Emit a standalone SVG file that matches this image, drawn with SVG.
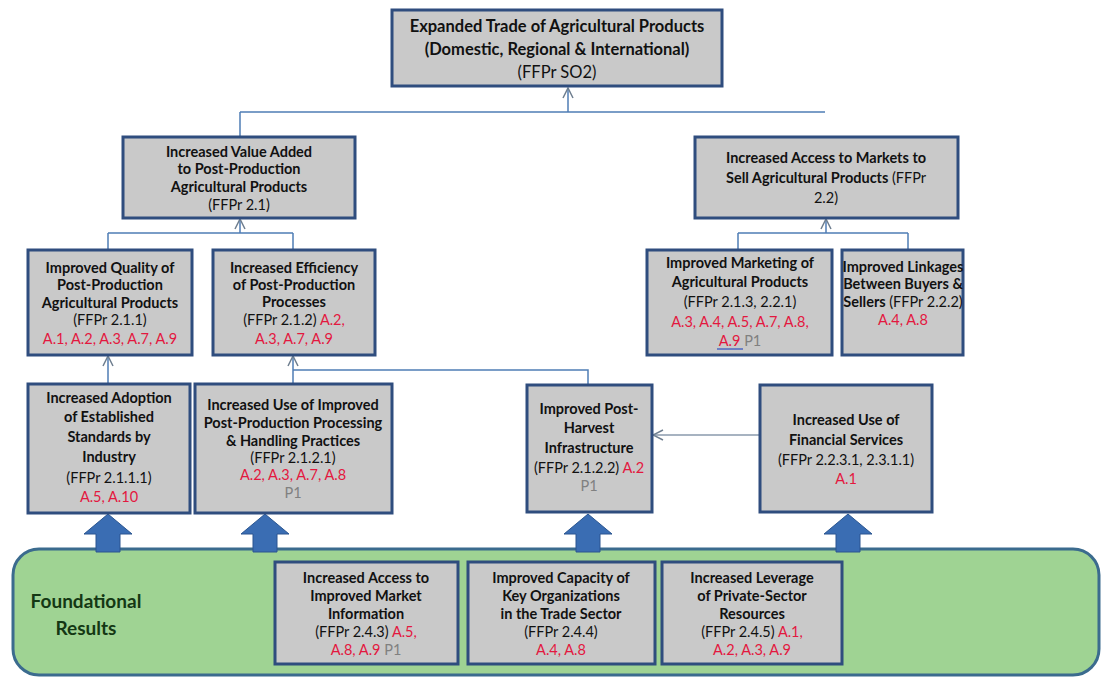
<svg xmlns="http://www.w3.org/2000/svg" width="1104" height="678" viewBox="0 0 1104 678">
<defs>
<style>
.box{fill:#c9c9c9;stroke:#2f4d7e;stroke-width:3}
.t{font-family:Lato,"Liberation Sans",sans-serif;font-size:14.5px;font-weight:bold;fill:#111;text-anchor:middle}
.n{font-weight:normal}
.r{font-weight:normal;fill:#e3183f}
.g{font-weight:normal;fill:#808080}
.con{fill:none;stroke:#4f7db5;stroke-width:1.5}
.cg{fill:none;stroke:#8a9aac;stroke-width:1.5}
.blk{fill:#3a6db3;stroke:#2a5590;stroke-width:1}
</style>
<marker id="arr" viewBox="0 0 12 12" refX="11" refY="6" markerWidth="12" markerHeight="12" markerUnits="userSpaceOnUse" orient="auto">
<path d="M1,1 L11,6 L1,11" fill="none" stroke="#6f7f90" stroke-width="1.5"/>
</marker>
<linearGradient id="gb" x1="0" y1="0" x2="0" y2="1">
<stop offset="0" stop-color="#cfcfcf"/>
<stop offset="1" stop-color="#c3c3c3"/>
</linearGradient>
</defs>
<rect width="1104" height="678" fill="#ffffff"/>

<g id="foundational">
<rect x="13" y="549" width="1086" height="126" rx="26" ry="26" fill="#9fd393" stroke="#3b6b8e" stroke-width="3"/>
<text x="86" y="608" class="t" style="font-size:19px;fill:#143814">Foundational</text>
<text x="86" y="635" class="t" style="font-size:19px;fill:#143814">Results</text>
</g>

<g id="connectors">
<path class="con" d="M240,112 L825,112 M240,112 L240,137"/>
<path class="con" d="M568,112 L568,88" marker-end="url(#arr)"/>
<path class="con" d="M108,233 L293,233 M108,233 L108,250 M293,233 L293,250"/>
<path class="con" d="M240,233 L240,219" marker-end="url(#arr)"/>
<path class="con" d="M738,233 L908,233 M738,233 L738,250 M908,233 L908,250"/>
<path class="con" d="M826,233 L826,219" marker-end="url(#arr)"/>
<path class="con" d="M108,384 L108,356" marker-end="url(#arr)"/>
<path class="con" d="M293,384 L293,356" marker-end="url(#arr)"/>
<path class="con" d="M293,370 L588,370 L588,385"/>
<path class="cg" d="M760,435 L653,435" marker-end="url(#arr)"/>
<polygon class="blk" points="108,514 132,534 120,534 120,552 96,552 96,534 84,534"/>
<polygon class="blk" points="265,514 289,534 277,534 277,552 253,552 253,534 241,534"/>
<polygon class="blk" points="588,514 612,534 600,534 600,552 576,552 576,534 564,534"/>
<polygon class="blk" points="848,514 872,534 860,534 860,552 836,552 836,534 824,534"/>
</g>

<g id="n-so2">
<rect class="box" x="392" y="10" width="330" height="76" fill="url(#gb)"/>
<text class="t" style="font-size:16.5px" x="557" y="32">Expanded Trade of Agricultural Products</text>
<text class="t" style="font-size:16.5px" x="557" y="55">(Domestic, Regional &amp; International)</text>
<text class="t n" style="font-size:16.5px" x="557" y="78">(FFPr SO2)</text>
</g>

<g id="n-21">
<rect class="box" x="123" y="137" width="232" height="81"/>
<text class="t" x="239" y="157">Increased Value Added</text>
<text class="t" x="239" y="174">to Post-Production</text>
<text class="t" x="239" y="192">Agricultural Products</text>
<text class="t n" x="239" y="210">(FFPr 2.1)</text>
</g>

<g id="n-22">
<rect class="box" x="695" y="137" width="263" height="81"/>
<text class="t" x="826" y="163">Increased Access to Markets to</text>
<text class="t" x="826" y="183">Sell Agricultural Products <tspan class="n">(FFPr</tspan></text>
<text class="t n" x="826" y="203">2.2)</text>
</g>

<g id="n-211">
<rect class="box" x="28" y="250" width="164" height="105"/>
<text class="t" x="110" y="273">Improved Quality of</text>
<text class="t" x="110" y="290">Post-Production</text>
<text class="t" x="110" y="308">Agricultural Products</text>
<text class="t n" x="110" y="325">(FFPr 2.1.1)</text>
<text class="t r" x="110" y="344">A.1, A.2, A.3, A.7, A.9</text>
</g>

<g id="n-212">
<rect class="box" x="213" y="250" width="162" height="105"/>
<text class="t" x="294" y="273">Increased Efficiency</text>
<text class="t" x="294" y="290">of Post-Production</text>
<text class="t" x="294" y="307">Processes</text>
<text class="t n" x="294" y="325">(FFPr 2.1.2) <tspan class="r">A.2,</tspan></text>
<text class="t r" x="294" y="344">A.3, A.7, A.9</text>
</g>

<g id="n-213">
<rect class="box" x="647" y="250" width="185" height="105"/>
<text class="t" x="740" y="268">Improved Marketing of</text>
<text class="t" x="740" y="287">Agricultural Products</text>
<text class="t n" x="740" y="307">(FFPr 2.1.3, 2.2.1)</text>
<text class="t r" x="740" y="327">A.3, A.4, A.5, A.7, A.8,</text>
<text class="t r" x="740" y="346">A.9 <tspan class="g">P1</tspan></text>
<line x1="717" y1="349" x2="743" y2="349" stroke="#3050c0" stroke-width="1.2"/>
</g>

<g id="n-222">
<rect class="box" x="842" y="250" width="121" height="105"/>
<text class="t" x="903" y="272">Improved Linkages</text>
<text class="t" x="903" y="289">Between Buyers &amp;</text>
<text class="t" x="903" y="307">Sellers <tspan class="n">(FFPr 2.2.2)</tspan></text>
<text class="t r" x="903" y="325">A.4, A.8</text>
</g>

<g id="n-2111">
<rect class="box" x="28" y="384" width="162" height="129"/>
<text class="t" x="109" y="403">Increased Adoption</text>
<text class="t" x="109" y="422">of Established</text>
<text class="t" x="109" y="442">Standards by</text>
<text class="t" x="109" y="462">Industry</text>
<text class="t n" x="109" y="483">(FFPr 2.1.1.1)</text>
<text class="t r" x="109" y="502">A.5, A.10</text>
</g>

<g id="n-2121">
<rect class="box" x="195" y="384" width="197" height="129"/>
<text class="t" x="293" y="410">Increased Use of Improved</text>
<text class="t" x="293" y="428">Post-Production Processing</text>
<text class="t" x="293" y="446">&amp; Handling Practices</text>
<text class="t n" x="293" y="463">(FFPr 2.1.2.1)</text>
<text class="t r" x="293" y="480">A.2, A.3, A.7, A.8</text>
<text class="t g" x="293" y="498">P1</text>
</g>

<g id="n-2122">
<rect class="box" x="527" y="385" width="125" height="127"/>
<text class="t" x="589" y="414">Improved Post-</text>
<text class="t" x="589" y="433">Harvest</text>
<text class="t" x="589" y="453">Infrastructure</text>
<text class="t n" x="589" y="473">(FFPr 2.1.2.2) <tspan class="r">A.2</tspan></text>
<text class="t g" x="589" y="491">P1</text>
</g>

<g id="n-2231">
<rect class="box" x="760" y="385" width="172" height="127"/>
<text class="t" x="846" y="425">Increased Use of</text>
<text class="t" x="846" y="445">Financial Services</text>
<text class="t n" x="846" y="465">(FFPr 2.2.3.1, 2.3.1.1)</text>
<text class="t r" x="846" y="484">A.1</text>
</g>

<g id="n-243">
<rect class="box" x="275" y="562" width="183" height="102"/>
<text class="t" x="366" y="583">Increased Access to</text>
<text class="t" x="366" y="601">Improved Market</text>
<text class="t" x="366" y="619">Information</text>
<text class="t n" x="366" y="637">(FFPr 2.4.3) <tspan class="r">A.5,</tspan></text>
<text class="t r" x="366" y="655">A.8, A.9 <tspan class="g">P1</tspan></text>
</g>

<g id="n-244">
<rect class="box" x="468" y="562" width="187" height="102"/>
<text class="t" x="561" y="583">Improved Capacity of</text>
<text class="t" x="561" y="601">Key Organizations</text>
<text class="t" x="561" y="619">in the Trade Sector</text>
<text class="t n" x="561" y="637">(FFPr 2.4.4)</text>
<text class="t r" x="561" y="655">A.4, A.8</text>
</g>

<g id="n-245">
<rect class="box" x="662" y="562" width="180" height="102"/>
<text class="t" x="752" y="583">Increased Leverage</text>
<text class="t" x="752" y="601">of Private-Sector</text>
<text class="t" x="752" y="619">Resources</text>
<text class="t n" x="752" y="637">(FFPr 2.4.5) <tspan class="r">A.1,</tspan></text>
<text class="t r" x="752" y="655">A.2, A.3, A.9</text>
</g>
</svg>
